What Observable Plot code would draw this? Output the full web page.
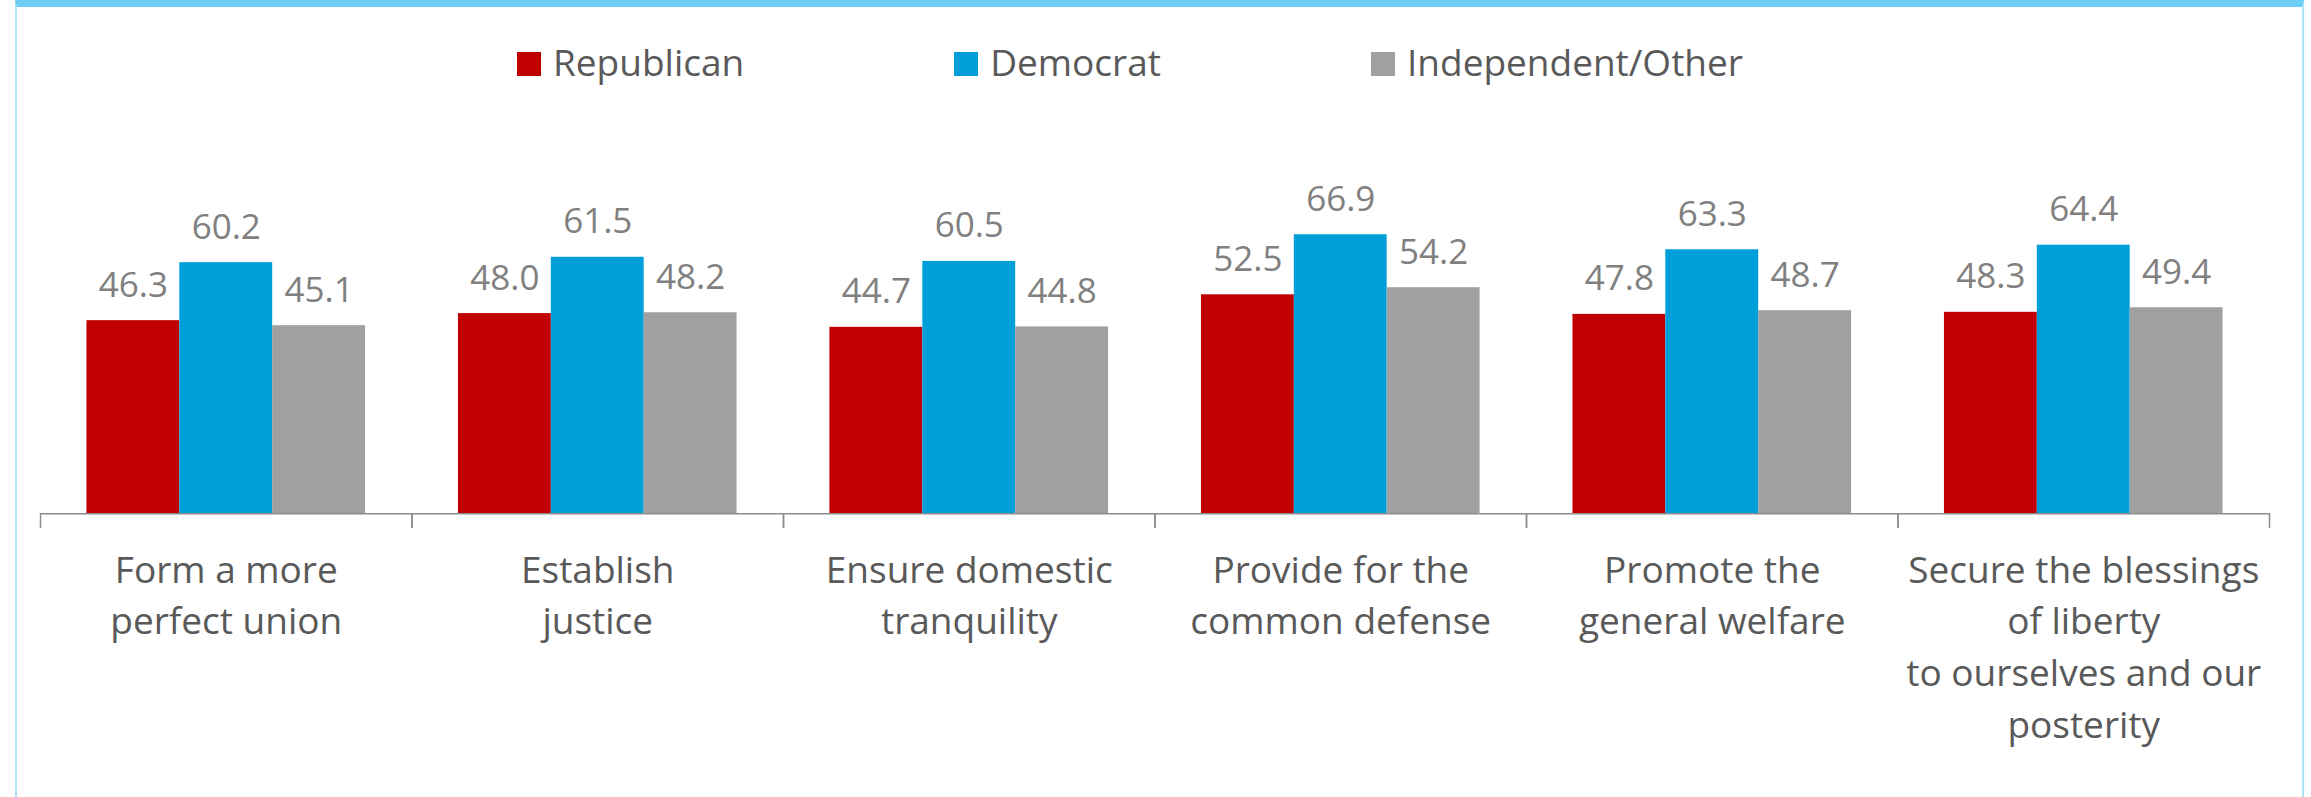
<!DOCTYPE html>
<html>
<head>
<meta charset="utf-8">
<script src="https://cdn.jsdelivr.net/npm/d3@7"></script>
<script src="https://cdn.jsdelivr.net/npm/@observablehq/plot@0.6"></script>
<style>
  html, body { margin: 0; padding: 0; background: #ffffff; }
  #wrap { position: relative; width: 2311px; height: 797px; overflow: hidden; font-family: "Open Sans", sans-serif; }
  #border { position: absolute; left: 15px; top: 0; width: 2289px; height: 797px;
            border-top: 7px solid #6DCFF6; border-left: 2px solid #AEE4F9; border-right: 2px solid #AEE4F9;
            box-sizing: border-box; pointer-events: none; z-index: 2; }
  #legend { position: relative; height: 100px; }
  #legend .items { position: absolute; left: 517px; top: 41px; display: flex; gap: 210px; }
  #legend .item { display: flex; align-items: center; line-height: 42px; font-size: 37px; color: #595959; white-space: nowrap; }
  #legend .sw { width: 24px; height: 24px; margin-right: 12px; position: relative; top: 2px; }
  svg { display: block; }
</style>
</head>
<body>
<div id="wrap">
  <div id="border"></div>
  <div id="legend"><div class="items"></div></div>
  <div id="chart"></div>
</div>
<script>
const categories = [
  "Form a more\nperfect union",
  "Establish\njustice",
  "Ensure domestic\ntranquility",
  "Provide for the\ncommon defense",
  "Promote the\ngeneral welfare",
  "Secure the blessings\nof liberty\nto ourselves and our\nposterity"
];
const parties = ["Republican", "Democrat", "Independent/Other"];
const republican = [46.3, 48.0, 44.7, 52.5, 47.8, 48.3];
const democrat = [60.2, 61.5, 60.5, 66.9, 63.3, 64.4];
const independent = [45.1, 48.2, 44.8, 54.2, 48.7, 49.4];
const partyColors = ["#C00000", "#009FDA", "#A0A0A0"];

const series = [republican, democrat, independent];
const rows = [];
categories.forEach((c, i) => {
  parties.forEach((p, j) => rows.push({category: c, party: p, value: series[j][i]}));
});

// legend
const items = document.querySelector("#legend .items");
parties.forEach((p, j) => {
  const it = document.createElement("div");
  it.className = "item";
  const sw = document.createElement("span");
  sw.className = "sw";
  sw.style.background = partyColors[j];
  const t = document.createElement("span");
  t.textContent = p;
  it.appendChild(sw); it.appendChild(t);
  items.appendChild(it);
});

const plotH = 292;
const chart = Plot.plot({
  width: 2311,
  height: 697,
  marginLeft: 40,
  marginRight: 42,
  marginTop: 121.3,
  marginBottom: 283.7,
  style: {fontFamily: "'Open Sans', sans-serif", background: "transparent"},
  fx: {domain: categories, padding: 0, round: false},
  x: {domain: parties, paddingInner: 0, paddingOuter: 0.5, round: false, axis: null},
  y: {domain: [0, 70], axis: null},
  color: {domain: parties, range: partyColors},
  marks: [
    Plot.barY(rows, {fx: "category", x: "party", y: "value", fill: "party"}),
    Plot.text(rows, {fx: "category", x: "party", y: "value", text: d => d.value.toFixed(1),
      lineAnchor: "bottom", dy: -24, fill: "#808080", fontSize: 35}),
    Plot.ruleY([0], {stroke: "#8C8C8C", strokeWidth: 1.5}),
    Plot.frame({anchor: "left", stroke: "#8C8C8C", strokeWidth: 1.5, insetTop: plotH, insetBottom: -13.4}),
    Plot.frame({anchor: "right", stroke: "#8C8C8C", strokeWidth: 1.5, insetTop: plotH, insetBottom: -13.4}),
    Plot.axisFx({anchor: "bottom", tickSize: 0, tickPadding: 32, fontSize: 37, lineHeight: 1.397,
      color: "#595959", label: null})
  ]
});
document.getElementById("chart").appendChild(chart);
</script>
</body>
</html>
